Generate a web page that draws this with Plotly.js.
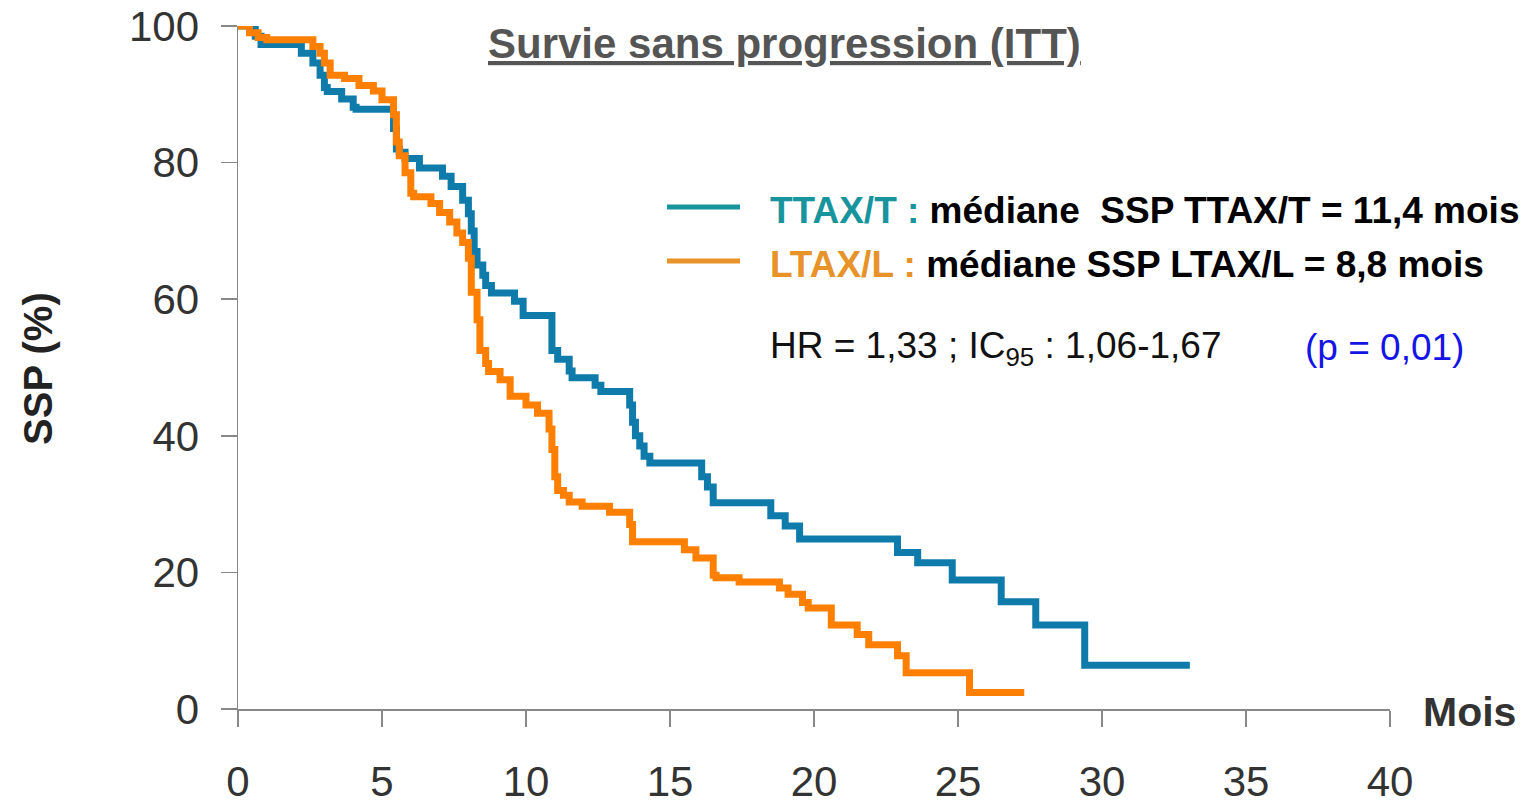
<!DOCTYPE html>
<html>
<head>
<meta charset="utf-8">
<script src="https://cdn.plot.ly/plotly-3.0.1.min.js"></script>
<style>
  html, body { margin: 0; padding: 0; background: #fff; }
  #chart { width: 1528px; height: 803px; }
</style>
</head>
<body>
<div id="chart"></div>
<script>
// Kaplan-Meier, survie sans progression (ITT)
var ttaxMonths = [0, 0.6, 0.8, 2.2, 2.6, 2.85, 3.0, 3.1, 3.6, 4.0, 4.1, 5.4, 5.5, 5.6, 5.8, 6.3, 7.1, 7.4, 7.8,
  8.0, 8.1, 8.2, 8.3, 8.5, 8.6, 8.8, 9.6, 9.9, 10.9, 11.1, 11.5, 11.6, 12.4, 12.6, 13.6, 13.7, 13.8, 13.95,
  14.1, 14.3, 16.1, 16.3, 16.5, 18.5, 19.0, 19.5, 22.9, 23.6, 24.8, 26.5, 27.7, 29.4, 33.05];
var ttaxSurv = [100, 98.5, 97.3, 96, 94.6, 92.8, 91, 90.4, 89.3, 88.1, 87.8, 85, 82, 81.5, 80.6, 79.2, 78, 76.5, 74.5,
  72.5, 70, 67, 65, 63.5, 62, 60.9, 59.7, 57.6, 52.5, 51.2, 49.5, 48.5, 47.4, 46.5, 44.5, 42, 40, 38.5,
  37, 36, 34, 32.5, 30.2, 28.3, 26.8, 24.9, 22.9, 21.4, 18.9, 15.7, 12.3, 6.4, 6.4];

var ltaxMonths = [0, 0.4, 0.7, 1.0, 2.6, 2.85, 3.0, 3.2, 3.7, 4.2, 4.7, 5.0, 5.4, 5.5, 5.6, 5.8, 6.0, 6.1, 6.7, 7.0,
  7.35, 7.6, 7.8, 8.0, 8.1, 8.3, 8.4, 8.6, 8.7, 9.1, 9.45, 10.0, 10.4, 10.8, 10.9, 11.0, 11.1, 11.3, 11.5,
  11.95, 12.9, 13.6, 13.7, 15.5, 15.9, 16.5, 16.6, 17.4, 18.8, 19.1, 19.6, 19.8, 20.6, 21.5, 21.9, 22.9,
  23.2, 25.4, 27.3];
var ltaxSurv = [100, 99, 98.3, 98, 97, 96, 94.6, 92.8, 92.3, 91.3, 90.5, 89.2, 87, 83, 81, 78.5, 75.5, 75, 74, 72.7,
  71.3, 69.7, 68.3, 66, 61, 57, 52.5, 50.6, 49.4, 48.2, 45.8, 44.5, 43.3, 41, 38, 34, 32, 31.3, 30.3,
  29.7, 28.8, 27, 24.5, 23.3, 22.1, 19.6, 19.2, 18.6, 17.7, 16.8, 15.6, 14.8, 12.3, 10.9, 9.4, 7.8,
  5.3, 2.4, 2.4];

var xTicks = [0, 5, 10, 15, 20, 25, 30, 35, 40];
var yTicks = [0, 20, 40, 60, 80, 100];

var legendLabels = ['TTAX/T :', 'LTAX/L :'];
var legendTexts = ['\u00a0médiane \u00a0SSP TTAX/T = 11,4 mois', '\u00a0médiane SSP LTAX/L = 8,8 mois'];
var legendColors = ['#17949e', '#e8922a'];

var traces = [
  {
    x: ttaxMonths, y: ttaxSurv, type: 'scatter', mode: 'lines',
    line: {shape: 'hv', color: '#0e7bab', width: 7},
    name: 'TTAX/T', hoverinfo: 'x+y'
  },
  {
    x: ltaxMonths, y: ltaxSurv, type: 'scatter', mode: 'lines',
    line: {shape: 'hv', color: '#ff7f00', width: 7},
    name: 'LTAX/L', hoverinfo: 'x+y'
  }
];

var tickFont = {family: 'Liberation Sans, Arial, sans-serif', size: 42, color: '#333333'};

var layout = {
  width: 1528,
  height: 803,
  margin: {l: 238, r: 138, t: 26, b: 94},
  paper_bgcolor: '#ffffff',
  plot_bgcolor: '#ffffff',
  showlegend: false,
  font: {family: 'Liberation Sans, Arial, sans-serif'},
  xaxis: {
    range: [0, 40],
    tickvals: xTicks,
    ticktext: xTicks.map(String),
    ticks: 'outside', ticklen: 16, tickwidth: 1.5, tickcolor: '#888888',
    showline: true, linecolor: '#888888', linewidth: 1.5,
    showgrid: false, zeroline: false,
    tickfont: tickFont,
    ticklabelstandoff: 19
  },
  yaxis: {
    range: [0, 100],
    tickvals: yTicks,
    ticktext: yTicks.map(String),
    ticks: 'outside', ticklen: 16, tickwidth: 1.5, tickcolor: '#888888',
    showline: true, linecolor: '#888888', linewidth: 1.5,
    showgrid: false, zeroline: false,
    tickfont: tickFont,
    ticklabelstandoff: 13
  },
  shapes: [],
  annotations: [
    {
      text: '<b><u>Survie sans progression (ITT)</u></b>',
      xref: 'paper', yref: 'paper', x: 0.4748, y: 0.975,
      xanchor: 'center', yanchor: 'middle', showarrow: false,
      font: {size: 42, color: '#555555'}
    },
    {
      text: '<b>Mois</b>',
      xref: 'paper', yref: 'paper', x: 1.069, y: -0.004,
      xanchor: 'center', yanchor: 'middle', showarrow: false,
      font: {size: 41, color: '#333333'}
    },
    {
      text: '<b>SSP (%)</b>', textangle: -90,
      xref: 'paper', yref: 'paper', x: -0.1736, y: 0.498,
      xanchor: 'center', yanchor: 'middle', showarrow: false,
      font: {size: 40, color: '#222222'}
    },
    {
      text: 'HR = 1,33 ; IC<sub>95</sub> : 1,06-1,67',
      xref: 'paper', yref: 'paper', x: 0.46, y: 0.529,
      xanchor: 'left', yanchor: 'middle', showarrow: false,
      font: {size: 37, color: '#111111'}
    },
    {
      text: '(p = 0,01)',
      xref: 'paper', yref: 'paper', x: 0.9245, y: 0.529,
      xanchor: 'left', yanchor: 'middle', showarrow: false,
      font: {size: 37, color: '#1414e6'}
    }
  ]
};

// legend drawn by hand: long coloured line + coloured group name + black text
var legendY = [0.7351, 0.6561];
legendLabels.forEach(function(lab, i) {
  layout.shapes.push({
    type: 'line', xref: 'paper', yref: 'paper',
    x0: 0.3724, x1: 0.4358, y0: legendY[i], y1: legendY[i],
    line: {color: legendColors[i], width: 5}
  });
  layout.annotations.push({
    text: '<b><span style="color:' + legendColors[i] + '">' + lab + '</span>' + legendTexts[i] + '</b>',
    xref: 'paper', yref: 'paper', x: 0.46, y: legendY[i] - 0.005,
    xanchor: 'left', yanchor: 'middle', showarrow: false,
    font: {size: 37, color: '#000000'}
  });
});

Plotly.newPlot('chart', traces, layout, {displayModeBar: false, staticPlot: true});
</script>
</body>
</html>
